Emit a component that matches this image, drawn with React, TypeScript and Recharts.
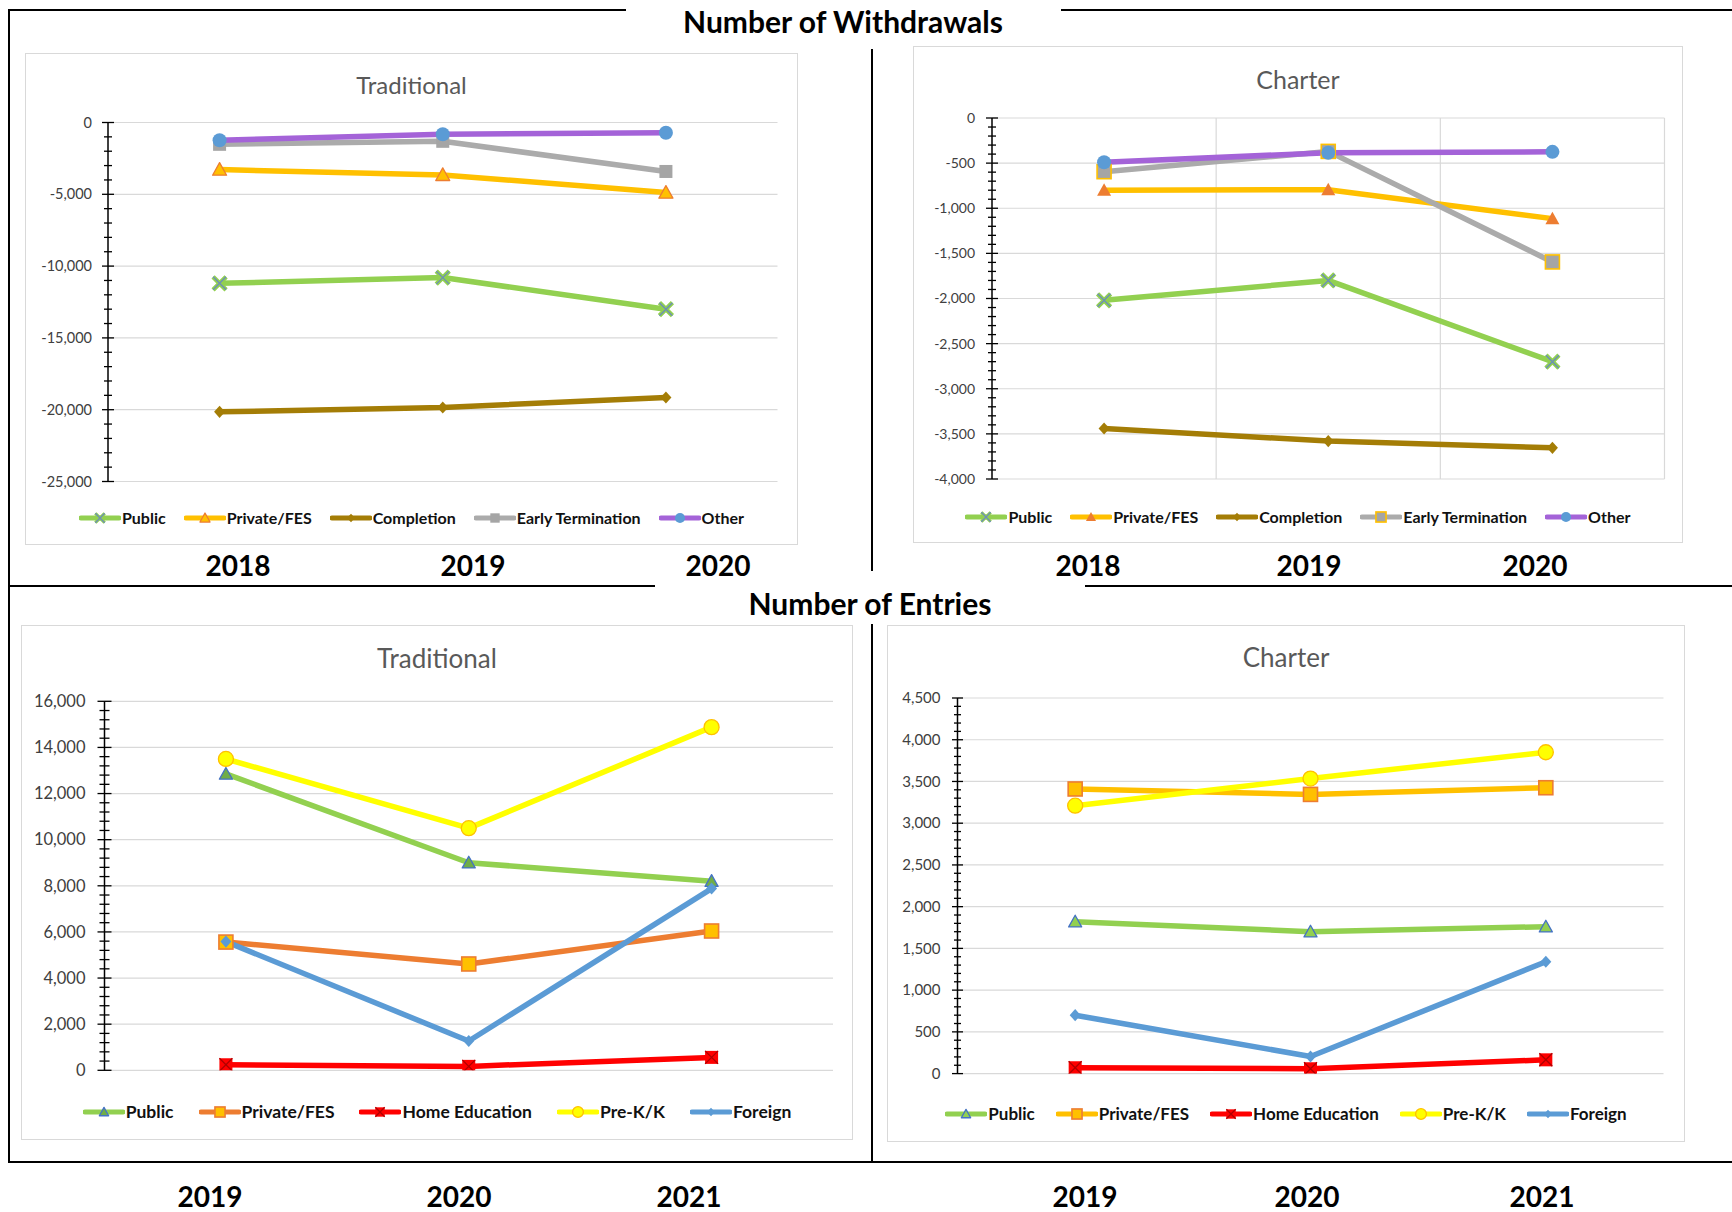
import { LineChart, Line, XAxis, YAxis, CartesianGrid } from 'recharts'

const WITHDRAWAL_YEARS = ['2018', '2019', '2020']
const ENTRY_YEARS = ['2019', '2020', '2021']

// withdrawals – traditional schools
const tradWdPublic = [-11200, -10800, -13000]
const tradWdPrivate = [-3280, -3650, -4880]
const tradWdCompletion = [-20150, -19850, -19150]
const tradWdEarly = [-1520, -1310, -3410]
const tradWdOther = [-1240, -815, -710]

// withdrawals – charter schools
const charWdPublic = [-2020, -1800, -2700]
const charWdPrivate = [-800, -795, -1115]
const charWdCompletion = [-3440, -3580, -3655]
const charWdEarly = [-595, -370, -1595]
const charWdOther = [-490, -385, -375]

// entries – traditional schools
const tradEnPublic = [12850, 9000, 8200]
const tradEnPrivate = [5560, 4610, 6040]
const tradEnHome = [240, 170, 560]
const tradEnPreK = [13500, 10500, 14880]
const tradEnForeign = [5580, 1270, 7880]

// entries – charter schools
const charEnPublic = [1820, 1700, 1760]
const charEnPrivate = [3410, 3345, 3425]
const charEnHome = [70, 58, 165]
const charEnPreK = [3210, 3535, 3850]
const charEnForeign = [700, 205, 1340]

// y axis labels (major) and minor tick spacing
const tradWdTicks = [0, -5000, -10000, -15000, -20000, -25000]
const charWdTicks = [0, -500, -1000, -1500, -2000, -2500, -3000, -3500, -4000]
const tradEnTicks = [0, 2000, 4000, 6000, 8000, 10000, 12000, 14000, 16000]
const charEnTicks = [0, 500, 1000, 1500, 2000, 2500, 3000, 3500, 4000, 4500]

const FONT = 'Lato, "Open Sans", "DejaVu Sans", sans-serif'

type MarkerKind = 'x' | 'triangle' | 'diamond' | 'square' | 'circle' | 'boxx'
interface MarkerStyle { kind: MarkerKind; fill: string; stroke?: string; size: number }

interface SeriesDef {
  key: string
  name: string
  color: string
  values: number[]
  marker: MarkerStyle
}

const GREEN = '#92D050'
const GOLD = '#FFC000'
const ORANGE = '#ED7D31'
const BROWN = '#A47D06'
const GREY = '#ABABAB'
const PURPLE = '#A463D8'
const BLUE = '#5B9BD5'
const RED = '#FF0000'
const YELLOW = '#FFFF00'

const LINE_W = 5.5

const xMark: MarkerStyle = { kind: 'x', fill: GREEN, stroke: '#6C8EB8', size: 13 }
const diamondBrown: MarkerStyle = { kind: 'diamond', fill: BROWN, size: 11 }
const blueDot: MarkerStyle = { kind: 'circle', fill: BLUE, size: 14 }
const homeMark: MarkerStyle = { kind: 'boxx', fill: RED, stroke: '#B00000', size: 13 }
const preKMark: MarkerStyle = { kind: 'circle', fill: YELLOW, stroke: GOLD, size: 15 }
const foreignMark: MarkerStyle = { kind: 'diamond', fill: BLUE, size: 11 }
const goldSquare: MarkerStyle = { kind: 'square', fill: GOLD, stroke: ORANGE, size: 14 }

const tradWdSeries: SeriesDef[] = [
  { key: 'public', name: 'Public', color: GREEN, values: tradWdPublic, marker: xMark },
  { key: 'private', name: 'Private/FES', color: GOLD, values: tradWdPrivate, marker: { kind: 'triangle', fill: GOLD, stroke: ORANGE, size: 14 } },
  { key: 'completion', name: 'Completion', color: BROWN, values: tradWdCompletion, marker: diamondBrown },
  { key: 'early', name: 'Early Termination', color: GREY, values: tradWdEarly, marker: { kind: 'square', fill: '#A5A5A5', size: 13 } },
  { key: 'other', name: 'Other', color: PURPLE, values: tradWdOther, marker: blueDot },
]

const charWdSeries: SeriesDef[] = [
  { key: 'public', name: 'Public', color: GREEN, values: charWdPublic, marker: xMark },
  { key: 'private', name: 'Private/FES', color: GOLD, values: charWdPrivate, marker: { kind: 'triangle', fill: ORANGE, size: 14 } },
  { key: 'completion', name: 'Completion', color: BROWN, values: charWdCompletion, marker: diamondBrown },
  { key: 'early', name: 'Early Termination', color: GREY, values: charWdEarly, marker: { kind: 'square', fill: '#A5A5A5', stroke: GOLD, size: 14 } },
  { key: 'other', name: 'Other', color: PURPLE, values: charWdOther, marker: blueDot },
]

const tradEnSeries: SeriesDef[] = [
  { key: 'public', name: 'Public', color: GREEN, values: tradEnPublic, marker: { kind: 'triangle', fill: '#70AD47', stroke: '#4472C4', size: 13 } },
  { key: 'private', name: 'Private/FES', color: ORANGE, values: tradEnPrivate, marker: goldSquare },
  { key: 'home', name: 'Home Education', color: RED, values: tradEnHome, marker: homeMark },
  { key: 'prek', name: 'Pre-K/K', color: YELLOW, values: tradEnPreK, marker: preKMark },
  { key: 'foreign', name: 'Foreign', color: BLUE, values: tradEnForeign, marker: foreignMark },
]

const charEnSeries: SeriesDef[] = [
  { key: 'public', name: 'Public', color: GREEN, values: charEnPublic, marker: { kind: 'triangle', fill: GREEN, stroke: '#4472C4', size: 13 } },
  { key: 'private', name: 'Private/FES', color: GOLD, values: charEnPrivate, marker: goldSquare },
  { key: 'home', name: 'Home Education', color: RED, values: charEnHome, marker: homeMark },
  { key: 'prek', name: 'Pre-K/K', color: YELLOW, values: charEnPreK, marker: preKMark },
  { key: 'foreign', name: 'Foreign', color: BLUE, values: charEnForeign, marker: foreignMark },
]

function Marker({ cx, cy, m, scale = 1 }: { cx: number; cy: number; m: MarkerStyle; scale?: number }) {
  if (cx == null || cy == null) return null
  const size = m.size * scale
  const s = size / 2
  const stroke = m.stroke ?? 'none'
  switch (m.kind) {
    case 'circle':
      return <circle cx={cx} cy={cy} r={s} fill={m.fill} stroke={stroke} strokeWidth={1.3} />
    case 'square':
      return <rect x={cx - s} y={cy - s} width={size} height={size} fill={m.fill} stroke={stroke} strokeWidth={1.6} />
    case 'triangle':
      return (
        <polygon
          points={`${cx},${cy - s} ${cx + s},${cy + s * 0.8} ${cx - s},${cy + s * 0.8}`}
          fill={m.fill} stroke={stroke} strokeWidth={1.3} strokeLinejoin="round"
        />
      )
    case 'diamond':
      return (
        <polygon
          points={`${cx},${cy - s * 1.1} ${cx + s},${cy} ${cx},${cy + s * 1.1} ${cx - s},${cy}`}
          fill={m.fill}
        />
      )
    case 'x': {
      const d = `M${cx - s},${cy - s}L${cx + s},${cy + s}M${cx + s},${cy - s}L${cx - s},${cy + s}`
      return (
        <g>
          <path d={d} stroke={m.fill} strokeWidth={4.5 * scale} />
          <path d={d} stroke={stroke} strokeWidth={1.3} />
        </g>
      )
    }
    case 'boxx': {
      const d = `M${cx - s},${cy - s}L${cx + s},${cy + s}M${cx + s},${cy - s}L${cx - s},${cy + s}`
      return (
        <g>
          <rect x={cx - s} y={cy - s} width={size} height={size} fill={m.fill} />
          <path d={d} stroke={stroke} strokeWidth={1.3} />
        </g>
      )
    }
  }
  return null
}

function minorTicks(majors: number[], step: number): number[] {
  const lo = Math.min(...majors)
  const hi = Math.max(...majors)
  const out: number[] = []
  for (let v = lo; v <= hi + 1e-6; v += step) out.push(Math.round(v))
  return out
}

interface AxisTickProps {
  x?: number
  y?: number
  payload?: { value: number }
  majors: number[]
  fontSize: number
  gap: number
  half: [number, number]
}

function AxisTick({ x = 0, y = 0, payload, majors, fontSize, gap, half }: AxisTickProps) {
  const v = payload?.value ?? 0
  const major = majors.includes(v)
  const h = major ? half[0] : half[1]
  return (
    <g>
      <line x1={x - h} x2={x + h} y1={y} y2={y} stroke="#000" strokeWidth={1.3} />
      {major && (
        <text x={x - gap} y={y} dy="0.35em" textAnchor="end" fontSize={fontSize} fill="#404040" fontFamily={FONT}>
          {v.toLocaleString('en-US')}
        </text>
      )}
    </g>
  )
}

function LegendRow({ series, fontSize, gap }: { series: SeriesDef[]; fontSize: number; gap: number }) {
  return (
    <div style={{ display: 'flex', justifyContent: 'center', alignItems: 'center', gap }}>
      {series.map(s => (
        <div key={s.key} style={{ display: 'flex', alignItems: 'center' }}>
          <svg width={42} height={16}>
            <line x1={2} x2={40} y1={8} y2={8} stroke={s.color} strokeWidth={5} strokeLinecap="round" />
            <Marker cx={21} cy={8} m={s.marker} scale={0.72} />
          </svg>
          <span style={{ fontSize, fontWeight: 700, color: '#111', marginLeft: 1, whiteSpace: 'nowrap' }}>{s.name}</span>
        </div>
      ))}
    </div>
  )
}

interface PanelProps {
  title: string
  years: string[]
  series: SeriesDef[]
  majors: number[]
  minorStep: number
  box: { left: number; top: number; width: number; height: number }
  plot: { left: number; top: number; right: number; bottom: number }
  titleY: number
  titleSize: number
  legendY: number
  legendFont: number
  legendGap: number
  tickSize: number
  tickGap: number
  tickHalf: [number, number]
  vGrid?: boolean
}

function Panel(p: PanelProps) {
  const rows = p.years.map((year, i) => {
    const row: Record<string, string | number> = { year }
    for (const s of p.series) row[s.key] = s.values[i]
    return row
  })
  const plotW = p.box.width - p.plot.left - p.plot.right
  const pad = plotW / 6
  const lo = Math.min(...p.majors)
  const hi = Math.max(...p.majors)

  return (
    <div
      style={{
        position: 'absolute', left: p.box.left, top: p.box.top, width: p.box.width, height: p.box.height,
        border: '1px solid #D9D9D9', boxSizing: 'border-box', background: '#fff',
      }}
    >
      <div
        style={{
          position: 'absolute', left: 0, width: '100%', top: p.titleY - p.titleSize * 0.6, textAlign: 'center',
          fontSize: p.titleSize, color: '#595959', lineHeight: 1.2,
        }}
      >
        {p.title}
      </div>
      <div style={{ position: 'absolute', left: 0, top: 0 }}>
        <LineChart
          width={p.box.width}
          height={p.box.height}
          data={rows}
          margin={{ top: p.plot.top, right: p.plot.right, bottom: p.box.height - p.plot.bottom, left: 0 }}
        >
          <CartesianGrid
            stroke="#D9D9D9"
            strokeWidth={1.2}
            horizontalValues={p.majors}
            vertical={!!p.vGrid}
            verticalCoordinatesGenerator={({ offset }: any) =>
              [1, 2, 3].map(i => offset.left + (offset.width * i) / 3)
            }
          />
          <XAxis dataKey="year" hide padding={{ left: pad, right: pad }} />
          <YAxis
            type="number"
            width={p.plot.left}
            domain={[lo, hi]}
            ticks={minorTicks(p.majors, p.minorStep)}
            interval={0}
            allowDataOverflow
            tickSize={0}
            tickMargin={0}
            tickLine={false}
            axisLine={{ stroke: '#000', strokeWidth: 1.5 }}
            tick={(t: any) => (
              <AxisTick {...t} majors={p.majors} fontSize={p.tickSize} gap={p.tickGap} half={p.tickHalf} />
            )}
          />
          {p.series.map(s => (
            <Line
              key={s.key}
              dataKey={s.key}
              name={s.name}
              stroke={s.color}
              strokeWidth={LINE_W}
              strokeLinejoin="round"
              strokeLinecap="round"
              isAnimationActive={false}
              activeDot={false}
              dot={(d: any) => <Marker key={`${s.key}-${d.index}`} cx={d.cx} cy={d.cy} m={s.marker} />}
            />
          ))}
        </LineChart>
      </div>
      <div style={{ position: 'absolute', left: 0, width: '100%', top: p.legendY - 10 }}>
        <LegendRow series={p.series} fontSize={p.legendFont} gap={p.legendGap} />
      </div>
    </div>
  )
}

function Rule({ x, y, w, h }: { x: number; y: number; w: number; h: number }) {
  return <div style={{ position: 'absolute', left: x, top: y, width: w, height: h, background: '#000' }} />
}

function YearLabels({ years, xs, y }: { years: string[]; xs: number[]; y: number }) {
  return (
    <>
      {years.map((yr, i) => (
        <div
          key={yr}
          style={{
            position: 'absolute', left: xs[i] - 60, width: 120, top: y - 17, textAlign: 'center',
            fontSize: 28, fontWeight: 700, color: '#000', lineHeight: '34px',
          }}
        >
          {yr}
        </div>
      ))}
    </>
  )
}

function Heading({ text, cx, cy }: { text: string; cx: number; cy: number }) {
  return (
    <div
      style={{
        position: 'absolute', left: cx - 250, width: 500, top: cy - 18, textAlign: 'center',
        fontSize: 30, fontWeight: 700, color: '#000', lineHeight: '36px',
      }}
    >
      {text}
    </div>
  )
}

export default function App() {
  return (
    <div
      style={{
        position: 'absolute', left: 0, top: 0, width: 1732, height: 1212, background: '#fff',
        fontFamily: FONT, overflow: 'hidden',
      }}
    >
      {/* frame */}
      <Rule x={8} y={9} w={2} h={1154} />
      <Rule x={8} y={9} w={618} h={2} />
      <Rule x={1061} y={9} w={671} h={2} />
      <Rule x={871} y={49} w={2} h={522} />
      <Rule x={8} y={585} w={647} h={2} />
      <Rule x={1085} y={585} w={647} h={2} />
      <Rule x={871} y={624} w={2} h={539} />
      <Rule x={8} y={1161} w={1724} h={2} />

      <Heading text="Number of Withdrawals" cx={843} cy={21} />
      <Heading text="Number of Entries" cx={870} cy={603} />

      <Panel
        title="Traditional"
        years={WITHDRAWAL_YEARS}
        series={tradWdSeries}
        majors={tradWdTicks}
        minorStep={1000}
        box={{ left: 25, top: 53, width: 773, height: 492 }}
        plot={{ left: 82, top: 68.5, right: 21.5, bottom: 427.5 }}
        titleY={31}
        titleSize={24}
        legendY={464}
        legendFont={16}
        legendGap={18}
        tickSize={14.5}
        tickGap={16}
        tickHalf={[6, 4]}
      />
      <Panel
        title="Charter"
        years={WITHDRAWAL_YEARS}
        series={charWdSeries}
        majors={charWdTicks}
        minorStep={100}
        box={{ left: 913, top: 46, width: 770, height: 497 }}
        plot={{ left: 78, top: 71, right: 19.5, bottom: 432 }}
        titleY={32}
        titleSize={25}
        legendY={470}
        legendFont={16}
        legendGap={18}
        tickSize={14}
        tickGap={17}
        tickHalf={[6, 4]}
        vGrid
      />
      <Panel
        title="Traditional"
        years={ENTRY_YEARS}
        series={tradEnSeries}
        majors={tradEnTicks}
        minorStep={400}
        box={{ left: 21, top: 625, width: 832, height: 515 }}
        plot={{ left: 82.5, top: 75.3, right: 21, bottom: 444.3 }}
        titleY={33}
        titleSize={26}
        legendY={485}
        legendFont={17.5}
        legendGap={25}
        tickSize={16.5}
        tickGap={19}
        tickHalf={[7, 5]}
      />
      <Panel
        title="Charter"
        years={ENTRY_YEARS}
        series={charEnSeries}
        majors={charEnTicks}
        minorStep={100}
        box={{ left: 887, top: 625, width: 798, height: 517 }}
        plot={{ left: 69.5, top: 72, right: 22.5, bottom: 447.6 }}
        titleY={32}
        titleSize={26}
        legendY={487}
        legendFont={17}
        legendGap={21}
        tickSize={15}
        tickGap={17}
        tickHalf={[5.5, 3.5]}
      />

      <YearLabels years={WITHDRAWAL_YEARS} xs={[238, 473, 718]} y={565} />
      <YearLabels years={WITHDRAWAL_YEARS} xs={[1088, 1309, 1535]} y={565} />
      <YearLabels years={ENTRY_YEARS} xs={[210, 459, 689]} y={1196} />
      <YearLabels years={ENTRY_YEARS} xs={[1085, 1307, 1542]} y={1196} />
    </div>
  )
}
